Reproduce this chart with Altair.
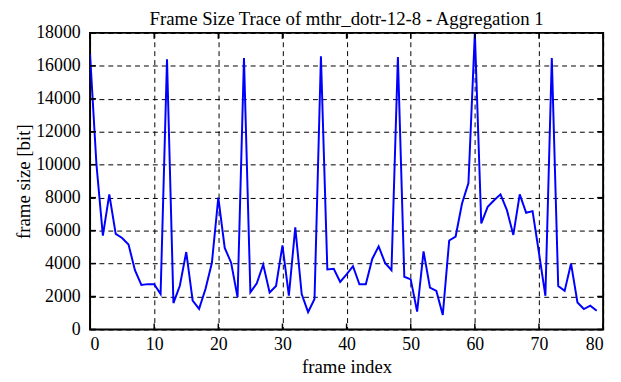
import altair as alt
import pandas as pd

frame_index = list(range(80))
frame_size = [16700, 10000, 5700, 8200, 5800, 5550, 5150, 3600, 2700, 2750,
              2750, 2150, 16400, 1600, 2650, 4700, 1750, 1250, 2450, 4050,
              8000, 4950, 4050, 1950, 16480, 2250, 2800, 3940, 2240, 2640,
              5100, 2050, 6200, 2150, 1050, 1850, 16580, 3640, 3680, 2880,
              3340, 3840, 2740, 2740, 4280, 5040, 4040, 3600, 16540, 3200,
              3040, 1080, 4740, 2540, 2340, 880, 5400, 5640, 7640, 8880,
              18000, 6440, 7440, 7840, 8200, 7240, 5740, 8200, 7080, 7180,
              4640, 2040, 16480, 2640, 2340, 4000, 1640, 1240, 1440, 1140]
x_ticks = [0, 10, 20, 30, 40, 50, 60, 70, 80]
y_ticks = [0, 2000, 4000, 6000, 8000, 10000, 12000, 14000, 16000, 18000]

df = pd.DataFrame({"i": frame_index, "size": frame_size})
dfx = pd.DataFrame({"t": x_ticks})
dfy = pd.DataFrame({"t": y_ticks})

FONT = "Liberation Serif"
W, H = 519, 300

xs = alt.Scale(domain=[0, 80], nice=False, zero=False)
ys = alt.Scale(domain=[0, 18000], nice=False)

common_axis = dict(grid=True, gridDash=[5, 4], gridColor="black", gridOpacity=1,
                   gridWidth=1, ticks=False, domain=False, labelFontSize=18,
                   titleFontSize=19, labelColor="black", titleColor="black",
                   labelFont=FONT, titleFont=FONT, titleFontWeight="normal",
                   labelOverlap=False, format="d")
x_axis = alt.Axis(values=x_ticks, labelPadding=6, titlePadding=5, **common_axis)
y_axis = alt.Axis(values=y_ticks, labelPadding=10, titlePadding=2, **common_axis)

line = alt.Chart(df).mark_line(color="#0000ff", strokeWidth=2, clip=True).encode(
    x=alt.X("i:Q", scale=xs, title="frame index", axis=x_axis),
    y=alt.Y("size:Q", scale=ys, title="frame size [bit]", axis=y_axis),
)

tick_style = dict(color="black", strokeWidth=1.5)
xt_bottom = alt.Chart(dfx).mark_rule(**tick_style).encode(
    x=alt.X("t:Q", scale=xs, title="frame index", axis=x_axis),
    y=alt.value(H), y2=alt.value(H - 6))
xt_top = alt.Chart(dfx).mark_rule(**tick_style).encode(
    x=alt.X("t:Q", scale=xs, title="frame index", axis=x_axis),
    y=alt.value(0), y2=alt.value(6))
yt_left = alt.Chart(dfy).mark_rule(**tick_style).encode(
    y=alt.Y("t:Q", scale=ys, title="frame size [bit]", axis=y_axis),
    x=alt.value(0), x2=alt.value(6))
yt_right = alt.Chart(dfy).mark_rule(**tick_style).encode(
    y=alt.Y("t:Q", scale=ys, title="frame size [bit]", axis=y_axis),
    x=alt.value(W), x2=alt.value(W - 6))

chart = alt.layer(line, xt_bottom, xt_top, yt_left, yt_right).properties(
    width=W, height=H,
    title=alt.TitleParams("Frame Size Trace of mthr_dotr-12-8 - Aggregation 1",
                          font=FONT, fontSize=19, fontWeight="normal", color="black",
                          offset=-5, anchor="middle"),
    autosize=alt.AutoSizeParams(type="none"),
    padding={"left": 83, "top": 23, "right": 10, "bottom": 52},
    background="white",
).configure_view(stroke="black", strokeWidth=2)

chart.save("out.html", embed_options={"renderer": "svg", "actions": False})
